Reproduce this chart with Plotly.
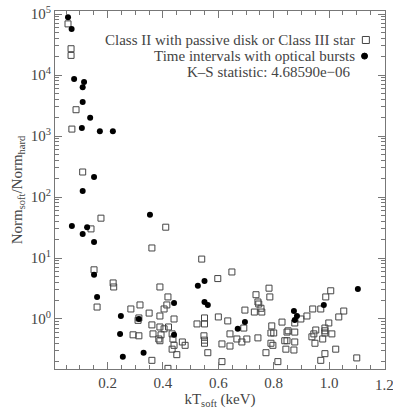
import plotly.graph_objects as go

# Class II with passive disk or Class III star (open squares)
passive_x = [0.057, 0.068, 0.068, 0.086, 0.071, 0.11, 0.14, 0.176, 0.41, 0.36, 0.151, 0.54, 0.649, 0.598,
             0.162, 0.22, 0.222, 0.389, 0.418, 0.414, 0.404, 0.317, 0.284, 0.35, 0.44, 0.313, 0.31, 0.389,
             0.36, 0.389, 0.404, 0.42, 0.523, 0.292, 0.313, 0.364, 0.393, 0.433, 0.385, 0.389, 0.436, 0.47,
             0.48, 0.44, 0.433, 0.45, 0.36, 0.418, 0.783, 0.786, 0.736, 0.743, 0.746, 0.754, 0.757, 0.73,
             0.696, 0.55, 0.60, 0.634, 0.55, 0.692, 0.548, 0.55, 0.55, 0.562, 0.613, 0.613, 0.642, 0.642,
             0.667, 0.685, 0.703, 0.743, 0.772, 0.793, 0.79, 0.80, 0.79, 0.797, 0.815, 0.83, 0.848, 0.852,
             0.84, 0.848, 0.844, 0.876, 0.876, 0.873, 0.876, 0.898, 0.92, 0.941, 0.97, 0.988, 1.006, 0.952,
             0.945, 0.938, 0.985, 0.985, 0.985, 0.999, 1.01, 0.977, 0.949, 0.985, 0.97, 1.024, 1.035, 1.053,
             1.10]
passive_y = [69000, 27000, 21000, 2700, 1300, 257, 30, 45, 32, 14.6, 6.4, 9.6, 5.9, 4.6,
             1.57, 3.9, 3.35, 3.35, 2.3, 1.7, 1.46, 1.7, 1.46, 1.25, 1.0, 1.04, 0.95, 1.12,
             0.80, 0.74, 0.69, 0.74, 0.83, 0.55, 0.53, 0.57, 0.55, 0.57, 0.47, 0.44, 0.47, 0.42,
             0.37, 0.37, 0.32, 0.26, 0.21, 0.155, 3.2, 2.3, 2.5, 1.9, 1.76, 1.5, 1.3, 1.3,
             1.4, 1.04, 1.08, 0.93, 0.83, 0.71, 0.53, 0.45, 0.40, 0.28, 0.20, 0.39, 0.57, 0.36,
             0.47, 0.42, 0.47, 0.49, 0.28, 0.77, 0.59, 0.59, 0.40, 0.37, 0.20, 0.89, 0.61, 0.64,
             0.44, 0.44, 0.32, 0.61, 0.42, 0.31, 0.86, 1.0, 1.12, 1.46, 1.46, 2.3, 2.9, 0.66,
             0.57, 0.51, 0.71, 0.64, 0.59, 0.86, 0.57, 0.47, 0.40, 0.27, 0.21, 0.32, 1.08, 1.35,
             0.23]

# Time intervals with optical bursts (filled circles)
burst_x = [0.057, 0.07, 0.079, 0.115, 0.11, 0.11, 0.137, 0.107, 0.172, 0.219, 0.151, 0.11, 0.071, 0.11,
           0.126, 0.151, 0.353, 0.151, 0.162, 0.526, 0.55, 0.44, 0.248, 0.313, 0.245, 0.44, 0.255, 0.33,
           0.55, 0.562, 1.104, 0.696, 0.67, 0.873, 0.884, 0.876, 0.981]
burst_y = [89000, 57000, 8600, 7700, 6300, 3600, 2000, 1350, 1200, 1200, 213, 125, 33.5, 24.7,
           32, 18.3, 51, 5.3, 2.3, 3.5, 4.2, 1.83, 1.12, 1.0, 0.57, 0.55, 0.24, 0.28,
           1.9, 1.7, 3.1, 0.89, 0.69, 1.35, 1.12, 0.96, 1.7]

y_exponents = [0, 1, 2, 3, 4, 5]
x_ticks = [0.2, 0.4, 0.6, 0.8, 1.0, 1.2]

legend_labels = ["Class II with passive disk or Class III star",
                 "Time intervals with optical bursts",
                 "K\u2013S statistic: 4.68590e\u221206"]

FONT = "Liberation Serif"
TXT = "#444444"
AX = "#777777"

y_tickvals = [10 ** e for e in y_exponents]
y_ticktext = ["10<sup>%d</sup>" % e for e in y_exponents]
y_minor = [m * 10 ** e for e in range(-1, 6) for m in range(2, 10)]

fig = go.Figure()
fig.add_trace(go.Scatter(x=passive_x, y=passive_y, mode="markers",
                         marker=dict(symbol="square-open", size=6, color="#444444",
                                     line=dict(width=1)),
                         showlegend=False))
fig.add_trace(go.Scatter(x=burst_x, y=burst_y, mode="markers",
                         marker=dict(symbol="circle", size=6, color="#000000"),
                         showlegend=False))

axis_common = dict(showgrid=False, zeroline=False, showline=True, linecolor=AX, linewidth=1,
                   mirror="ticks", ticks="inside", tickcolor=AX, ticklen=7, automargin=False,
                   tickfont=dict(family=FONT, size=15, color=TXT))

fig.update_xaxes(range=[0.01, 1.202], tickmode="array", tickvals=x_ticks,
                 ticktext=["%.1f" % v for v in x_ticks],
                 minor=dict(ticks="inside", dtick=0.05, tick0=0, ticklen=4, tickcolor=AX),
                 title=dict(text="kT<sub>soft</sub> (keV)", font=dict(family=FONT, size=15, color=TXT),
                            standoff=2),
                 **axis_common)
fig.update_yaxes(type="log", range=[-0.82, 5.05], tickmode="array", tickvals=y_tickvals,
                 ticktext=y_ticktext,
                 minor=dict(ticks="inside", tickmode="array", tickvals=y_minor, ticklen=4, tickcolor=AX),
                 title=dict(text="Norm<sub>soft</sub>/Norm<sub>hard</sub>",
                            font=dict(family=FONT, size=15, color=TXT), standoff=4),
                 **axis_common)

# last x tick label, which runs past the page edge as in the reference
fig.add_annotation(text="%.1f" % x_ticks[-1], xref="x", yref="paper", x=x_ticks[-1], y=0,
                   yshift=-6, xanchor="center", yanchor="top", showarrow=False,
                   font=dict(family=FONT, size=15, color=TXT))

ys = [0.919, 0.874, 0.830]
xs = [0.915, 0.915, 0.903]
for lab, xx, yy in zip(legend_labels, xs, ys):
    fig.add_annotation(text=lab, xref="paper", yref="paper", x=xx, y=yy, xanchor="right",
                       yanchor="middle", showarrow=False, font=dict(family=FONT, size=15, color=TXT))

fig.add_shape(type="rect", xref="paper", yref="paper", xsizemode="pixel", ysizemode="pixel",
              xanchor=0.942, yanchor=0.919, x0=-3.5, x1=3.5, y0=-3.5, y1=3.5,
              line=dict(color="#444444", width=1), fillcolor="rgba(0,0,0,0)")
fig.add_shape(type="circle", xref="paper", yref="paper", xsizemode="pixel", ysizemode="pixel",
              xanchor=0.938, yanchor=0.874, x0=-3, x1=3, y0=-3, y1=3,
              line=dict(color="#000000", width=1), fillcolor="#000000")

fig.update_layout(width=393, height=410, margin=dict(l=55, r=8, t=11, b=41),
                  plot_bgcolor="white", paper_bgcolor="white", showlegend=False)

fig.write_html("out.html")
